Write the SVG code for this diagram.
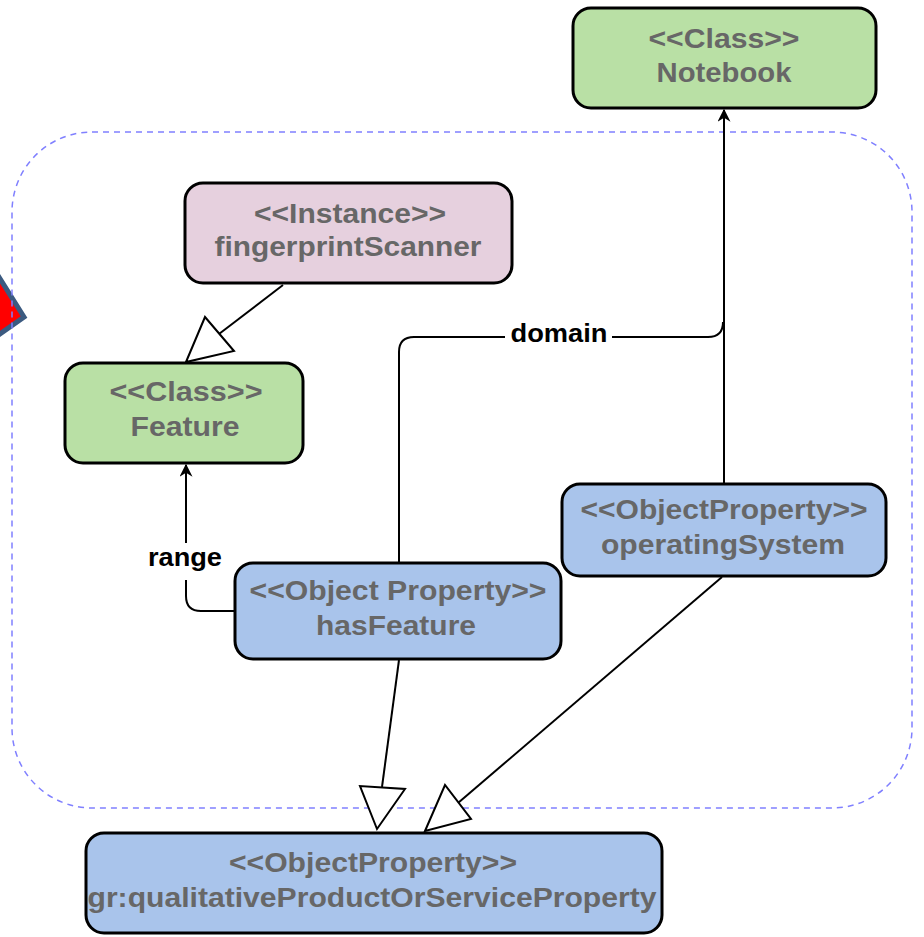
<svg xmlns="http://www.w3.org/2000/svg" width="924" height="937" viewBox="0 0 924 937">
<style>
.node rect{stroke:#000;stroke-width:3}
.t{font-family:"Liberation Sans",Arial,sans-serif;font-weight:bold;font-size:27px;fill:#676767;text-anchor:middle}
.lbl{font-family:"Liberation Sans",Arial,sans-serif;font-weight:bold;font-size:25px;fill:#000;text-anchor:middle}
.green{fill:#b9e0a5}.pink{fill:#e6d0de}.blue{fill:#a9c4eb}
.c{fill:none;stroke:#000;stroke-width:2}
.hollow{fill:#fff;stroke:#000;stroke-width:2}
</style>
<defs>
<marker id="arr" viewBox="0 0 10 10" refX="9" refY="5" markerWidth="15" markerHeight="13" markerUnits="userSpaceOnUse" orient="auto">
<path d="M0,0 L10,5 L0,10 L3,5 Z" fill="#000"/>
</marker>
</defs>
<rect width="924" height="937" fill="#fff"/>
<polygon points="-30,231 24,317 -30,355" fill="#ff0000" stroke="#3b5a80" stroke-width="5" stroke-linejoin="miter"/>
<rect id="container" x="12" y="132" width="900" height="676" rx="80" fill="none" stroke="#8080ff" stroke-width="1.5" stroke-dasharray="6,5"/>
<g id="connectors">
<path class="c" d="M724,484 V110" marker-end="url(#arr)"/>
<path class="c" d="M399,563 V352 Q399,337 414,337 H708 Q723,337 723,322"/>
<rect x="505" y="322" width="107" height="28" fill="#fff"/>
<text class="lbl" x="559" y="342" textLength="97" lengthAdjust="spacingAndGlyphs">domain</text>
<path class="c" d="M235,611 H201 Q186,611 186,596 V465" marker-end="url(#arr)"/>
<rect x="144" y="543" width="82" height="37" fill="#fff"/>
<text class="lbl" x="185" y="566" textLength="74" lengthAdjust="spacingAndGlyphs">range</text>
<path class="c" d="M283,285 L219,334"/>
<polygon class="hollow" points="186,362 205,317 234,351"/>
<path class="c" d="M399,660 L382,787"/>
<polygon class="hollow" points="377,829 360,786 405,789"/>
<path class="c" d="M722,577 L458,803"/>
<polygon class="hollow" points="425,831 445,785 471,819"/>
</g>
<g id="notebook" class="node">
<rect class="green" x="573" y="8" width="303" height="100" rx="18"/>
<text class="t" x="724" y="48" textLength="151" lengthAdjust="spacingAndGlyphs">&lt;&lt;Class&gt;&gt;</text>
<text class="t" x="724" y="82" textLength="135" lengthAdjust="spacingAndGlyphs">Notebook</text>
</g>
<g id="fingerprintScanner" class="node">
<rect class="pink" x="185" y="183" width="327" height="100" rx="18"/>
<text class="t" x="350" y="223" textLength="192" lengthAdjust="spacingAndGlyphs">&lt;&lt;Instance&gt;&gt;</text>
<text class="t" x="348" y="256" textLength="267" lengthAdjust="spacingAndGlyphs">fingerprintScanner</text>
</g>
<g id="feature" class="node">
<rect class="green" x="65" y="363" width="238" height="100" rx="18"/>
<text class="t" x="186" y="401" textLength="153" lengthAdjust="spacingAndGlyphs">&lt;&lt;Class&gt;&gt;</text>
<text class="t" x="185" y="436" textLength="109" lengthAdjust="spacingAndGlyphs">Feature</text>
</g>
<g id="hasFeature" class="node">
<rect class="blue" x="235" y="563" width="326" height="96" rx="18"/>
<text class="t" x="398" y="600" textLength="297" lengthAdjust="spacingAndGlyphs">&lt;&lt;Object Property&gt;&gt;</text>
<text class="t" x="396" y="635" textLength="160" lengthAdjust="spacingAndGlyphs">hasFeature</text>
</g>
<g id="operatingSystem" class="node">
<rect class="blue" x="562" y="484" width="324" height="92" rx="18"/>
<text class="t" x="724" y="519" textLength="287" lengthAdjust="spacingAndGlyphs">&lt;&lt;ObjectProperty&gt;&gt;</text>
<text class="t" x="723" y="554" textLength="244" lengthAdjust="spacingAndGlyphs">operatingSystem</text>
</g>
<g id="qualitativeProperty" class="node">
<rect class="blue" x="86" y="833" width="576" height="100" rx="18"/>
<text class="t" x="373" y="872" textLength="288" lengthAdjust="spacingAndGlyphs">&lt;&lt;ObjectProperty&gt;&gt;</text>
<text class="t" x="372" y="907" textLength="569" lengthAdjust="spacingAndGlyphs">gr:qualitativeProductOrServiceProperty</text>
</g>
</svg>
